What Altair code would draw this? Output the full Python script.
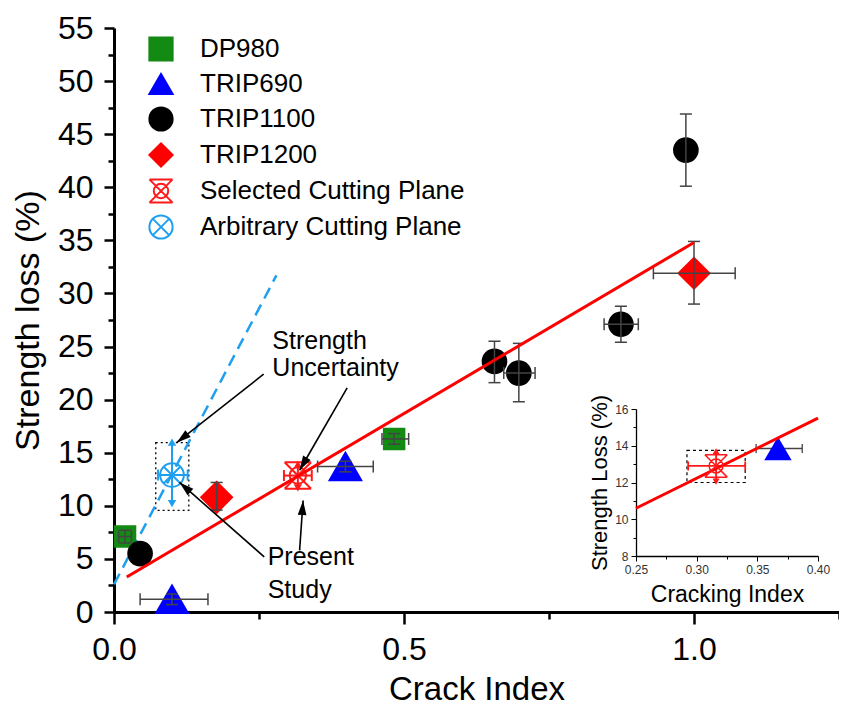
import math
import altair as alt
import pandas as pd

FONT = "Liberation Sans"

# ---------------- data ----------------
SERIES = ["DP980", "TRIP690", "TRIP1100", "TRIP1200",
          "Selected Cutting Plane", "Arbitrary Cutting Plane"]

PT_SERIES = ["DP980", "DP980", "TRIP690", "TRIP690",
             "TRIP1100", "TRIP1100", "TRIP1100", "TRIP1100", "TRIP1100",
             "TRIP1200", "TRIP1200",
             "Selected Cutting Plane", "Arbitrary Cutting Plane"]
PT_X = [0.019, 0.483, 0.100, 0.399, 0.045, 0.656, 0.698, 0.874, 0.986, 0.177, 1.000, 0.317, 0.100]
PT_Y = [7.1, 16.3, 1.2, 13.7, 5.5, 23.6, 22.5, 27.1, 43.5, 10.8, 31.9, 12.85, 12.9]

# horizontal error bars (y, x-low, x-high)
HX_Y = [7.1, 16.3, 1.2, 13.7, 22.5, 27.1, 31.9]
HX_LO = [0.008, 0.462, 0.045, 0.351, 0.672, 0.845, 0.930]
HX_HI = [0.030, 0.508, 0.162, 0.447, 0.726, 0.904, 1.071]

# vertical error bars (x, y-low, y-high)
VY_X = [0.019, 0.483, 0.100, 0.399, 0.656, 0.698, 0.874, 0.986, 0.177, 1.000]
VY_LO = [6.5, 15.8, 0.7, 13.2, 21.6, 19.8, 25.4, 40.1, 9.6, 29.0]
VY_HI = [7.7, 16.8, 1.7, 14.2, 25.5, 25.3, 28.8, 46.9, 12.2, 34.9]

# cutting-plane uncertainty bars (main plot)
CP_NAME = ["Selected Cutting Plane", "Arbitrary Cutting Plane"]
CP_X = [0.317, 0.100]
CP_Y = [12.85, 12.9]
CP_XLO = [0.293, 0.076]
CP_XHI = [0.341, 0.127]
CP_YLO = [11.7, 10.2]
CP_YHI = [13.9, 16.0]

# dotted uncertainty box (main)
BOX_XLO, BOX_XHI = [0.072], [0.129]
BOX_YLO, BOX_YHI = [9.57], [15.95]

# fitted line and dashed line
FIT_X = [0.022, 1.0]
FIT_Y = [3.3, 34.8]
DASH_X = [0.0, 0.28]
DASH_Y = [2.6, 31.7]

# annotations
ANN_TEXT = ["Strength", "Uncertainty", "Present", "Study"]
ANN_X = [0.273, 0.273, 0.265, 0.265]
ANN_Y = [24.8, 22.2, 4.4, 1.3]

ARR_X1 = [0.258, 0.402, 0.259, 0.320]
ARR_Y1 = [22.4, 21.1, 5.2, 5.8]
ARR_X2 = [0.108, 0.320, 0.113, 0.326]
ARR_Y2 = [15.95, 13.35, 12.2, 10.5]

# axis ticks
X_TICKS = [0.0, 0.25, 0.5, 0.75, 1.0, 1.25]
Y_TICKS = [i * 2.5 for i in range(23)]

# inset data
IN_LINE_X = [0.25, 0.40]
IN_LINE_Y = [10.6, 15.5]
IN_SEL_X, IN_SEL_Y = [0.316], [12.9]
IN_SEL_XLO, IN_SEL_XHI = [0.293], [0.340]
IN_SEL_YLO, IN_SEL_YHI = [12.05], [13.7]
IN_BOX_XLO, IN_BOX_XHI = [0.292], [0.340]
IN_BOX_YLO, IN_BOX_YHI = [12.0], [13.75]
IN_TRI_X, IN_TRI_Y = [0.367], [13.85]
IN_TRI_XLO, IN_TRI_XHI = [0.349], [0.387]
IN_TRI_YLO, IN_TRI_YHI = [13.7], [14.3]
IX_TICKS = [0.25, 0.275, 0.30, 0.325, 0.35, 0.375, 0.40]
IY_TICKS = [8, 9, 10, 11, 12, 13, 14, 15, 16]

# ---------------- styles ----------------
W, H = 725, 584
XMAX, YMAX = 1.25, 55
RED = "#ff1a1a"
SKY = "#1f9ff0"
ERR = "#444444"

SEL_PATH = ("M-1,-1L1,1M1,-1L-1,1M-1,-1L1,-1M-1,1L1,1"
            "M0.62,0A0.62,0.62,0,1,1,-0.62,0A0.62,0.62,0,1,1,0.62,0Z")
ARB_PATH = ("M1,0A1,1,0,1,1,-1,0A1,1,0,1,1,1,0Z"
            "M-0.7,-0.7L0.7,0.7M0.7,-0.7L-0.7,0.7")
ARROW_PATH = "M0,0L0.6,2L-0.6,2Z"

FILLS = ["#138a13", "#0000ff", "#000000", "#ff0000", "transparent", "transparent"]
STROKES = ["#138a13", "#0000ff", "#000000", "#ff0000", RED, SKY]
SHAPES = ["square", "triangle-up", "circle", "diamond", SEL_PATH, ARB_PATH]
SIZES = [420, 1000, 560, 950, 700, 560]

MX_SCALE = alt.Scale(domain=[0, XMAX], nice=False, zero=False)
MY_SCALE = alt.Scale(domain=[0, YMAX], nice=False, zero=False)

X_AXIS = alt.Axis(
    title="Crack Index", orient="bottom", values=X_TICKS, format=".1f",
    labelExpr="round(datum.value*4) % 2 === 0 ? datum.label : ''",
    tickSize={"condition": {"test": "round(datum.value*4) % 2 === 0", "value": 12}, "value": 7},
    tickWidth=2.5, tickColor="black", domainColor="black", domainWidth=3,
    labelFont=FONT, labelFontSize=32, labelColor="black", labelPadding=10,
    labelFlush=False, labelOverlap=False,
    titleFont=FONT, titleFontSize=33, titleFontWeight="normal", titleColor="black",
    titlePadding=8, grid=False)
Y_AXIS = alt.Axis(
    title="Strength loss (%)", orient="left", values=Y_TICKS, format="d",
    labelExpr="datum.value % 5 === 0 ? datum.label : ''",
    tickSize={"condition": {"test": "datum.value % 5 === 0", "value": 10}, "value": 6},
    tickWidth=2.5, tickColor="black", domainColor="black", domainWidth=3,
    labelFont=FONT, labelFontSize=32, labelColor="black", labelPadding=11,
    labelFlush=False, labelOverlap=False,
    titleFont=FONT, titleFontSize=34, titleFontWeight="normal", titleColor="black",
    titlePadding=12, grid=False)


def MX(f):
    return alt.X(f"{f}:Q", scale=MX_SCALE, axis=X_AXIS)


def MY(f):
    return alt.Y(f"{f}:Q", scale=MY_SCALE, axis=Y_AXIS)


def head_angle(x1, y1, x2, y2, px_x, px_y):
    dx = (x2 - x1) * px_x
    dy = -(y2 - y1) * px_y
    return math.degrees(math.atan2(dx, -dy)) % 360


# ---------------- main plot ----------------
pts_df = pd.DataFrame({"series": PT_SERIES, "x": PT_X, "y": PT_Y})
hx_df = pd.DataFrame({"y": HX_Y, "lo": HX_LO, "hi": HX_HI})
vy_df = pd.DataFrame({"x": VY_X, "lo": VY_LO, "hi": VY_HI})
cp_df = pd.DataFrame({"name": CP_NAME, "x": CP_X, "y": CP_Y, "xlo": CP_XLO,
                      "xhi": CP_XHI, "ylo": CP_YLO, "yhi": CP_YHI})
box_df = pd.DataFrame({"xlo": BOX_XLO, "xhi": BOX_XHI, "ylo": BOX_YLO, "yhi": BOX_YHI})
fit_df = pd.DataFrame({"x": FIT_X, "y": FIT_Y})
dash_df = pd.DataFrame({"x": DASH_X, "y": DASH_Y})
ann_df = pd.DataFrame({"t": ANN_TEXT, "x": ANN_X, "y": ANN_Y})
arr_df = pd.DataFrame({"x1": ARR_X1, "y1": ARR_Y1, "x2": ARR_X2, "y2": ARR_Y2})
arr_df["ang"] = [head_angle(a, b, c, d, W / XMAX, H / YMAX)
                 for a, b, c, d in zip(ARR_X1, ARR_Y1, ARR_X2, ARR_Y2)]

leg = alt.Legend(title=None, orient="none", legendX=34, legendY=8, padding=0,
                 labelFont=FONT, labelFontSize=26, labelColor="black", labelLimit=400,
                 labelOffset=26, rowPadding=4, symbolStrokeWidth=2, symbolSize=540)

box = alt.Chart(box_df).mark_rect(fill="transparent", stroke="black", strokeWidth=1.3,
                                  strokeDash=[2, 3]).encode(
    x=MX("xlo"), x2="xhi", y=MY("ylo"), y2="yhi")

dash = alt.Chart(dash_df).mark_line(color=SKY, strokeWidth=2.5, strokeDash=[12, 7]).encode(
    x=MX("x"), y=MY("y"))

pt_layers = []
for s, sz in zip(SERIES, SIZES):
    pt_layers.append(
        alt.Chart(pts_df).transform_filter(alt.datum.series == s)
        .mark_point(filled=True, opacity=1, strokeWidth=2, size=sz).encode(
            x=MX("x"), y=MY("y"),
            fill=alt.Fill("series:N", scale=alt.Scale(domain=SERIES, range=FILLS), legend=leg),
            stroke=alt.Stroke("series:N", scale=alt.Scale(domain=SERIES, range=STROKES), legend=leg),
            shape=alt.Shape("series:N", scale=alt.Scale(domain=SERIES, range=SHAPES), legend=leg),
        )
    )

hx_rule = alt.Chart(hx_df).mark_rule(color=ERR, strokeWidth=1.5).encode(
    x=MX("lo"), x2="hi", y=MY("y"))
hx_cap_lo = alt.Chart(hx_df).mark_tick(color=ERR, orient="vertical", size=12,
                                       thickness=1.5, opacity=1).encode(x=MX("lo"), y=MY("y"))
hx_cap_hi = alt.Chart(hx_df).mark_tick(color=ERR, orient="vertical", size=12,
                                       thickness=1.5, opacity=1).encode(x=MX("hi"), y=MY("y"))
vy_rule = alt.Chart(vy_df).mark_rule(color=ERR, strokeWidth=1.5).encode(
    x=MX("x"), y=MY("lo"), y2="hi")
vy_cap_lo = alt.Chart(vy_df).mark_tick(color=ERR, orient="horizontal", size=12,
                                       thickness=1.5, opacity=1).encode(x=MX("x"), y=MY("lo"))
vy_cap_hi = alt.Chart(vy_df).mark_tick(color=ERR, orient="horizontal", size=12,
                                       thickness=1.5, opacity=1).encode(x=MX("x"), y=MY("hi"))

cp_layers = []
for name, col in zip(CP_NAME, [RED, SKY]):
    base = alt.Chart(cp_df).transform_filter(alt.datum.name == name)
    cp_layers += [
        base.mark_rule(color=col, strokeWidth=2).encode(x=MX("xlo"), x2="xhi", y=MY("y")),
        base.mark_rule(color=col, strokeWidth=2).encode(x=MX("x"), y=MY("ylo"), y2="yhi"),
        base.mark_tick(color=col, orient="vertical", size=11, thickness=2, opacity=1).encode(
            x=MX("xlo"), y=MY("y")),
        base.mark_tick(color=col, orient="vertical", size=11, thickness=2, opacity=1).encode(
            x=MX("xhi"), y=MY("y")),
        base.mark_point(shape="triangle-up", filled=True, color=col, size=70, opacity=1).encode(
            x=MX("x"), y=MY("yhi")),
        base.mark_point(shape="triangle-down", filled=True, color=col, size=70, opacity=1).encode(
            x=MX("x"), y=MY("ylo")),
    ]

fit = alt.Chart(fit_df).mark_line(color="#ff0000", strokeWidth=3).encode(x=MX("x"), y=MY("y"))

arr_line = alt.Chart(arr_df).mark_rule(color="black", strokeWidth=1.6).encode(
    x=MX("x1"), y=MY("y1"), x2="x2", y2="y2")
arr_head = alt.Chart(arr_df).mark_point(shape=ARROW_PATH, filled=True, color="black",
                                        size=210, opacity=1).encode(
    x=MX("x2"), y=MY("y2"), angle=alt.Angle("ang:Q", scale=None))

ann = alt.Chart(ann_df).mark_text(align="left", baseline="alphabetic", font=FONT,
                                  fontSize=25, color="black").encode(
    x=MX("x"), y=MY("y"), text="t:N")

main = alt.layer(box, dash, *pt_layers, hx_rule, hx_cap_lo, hx_cap_hi, vy_rule, vy_cap_lo,
                 vy_cap_hi, *cp_layers, fit, arr_line, arr_head, ann)

# ---------------- inset ----------------
IX_SCALE = alt.Scale(domain=[0.25, 0.40], range=[522, 704], nice=False, zero=False)
IY_SCALE = alt.Scale(domain=[8, 16], range=[528, 381], nice=False, zero=False)

IX_AXIS = alt.Axis(
    title="Cracking Index", orient="bottom", offset=528 - H, values=IX_TICKS, format=".2f",
    labelExpr="round(datum.value*1000) % 50 === 0 ? datum.label : ''",
    tickSize={"condition": {"test": "round(datum.value*1000) % 50 === 0", "value": 5}, "value": 3},
    tickWidth=1, tickColor="black", domainColor="black", domainWidth=1.3,
    labelFont=FONT, labelFontSize=12, labelColor="#333333", labelPadding=3,
    labelFlush=False, labelOverlap=False,
    titleFont=FONT, titleFontSize=23, titleFontWeight="normal", titleColor="black",
    titlePadding=8, grid=False)
IY_AXIS = alt.Axis(
    title="Strength Loss (%)", orient="left", offset=-522, values=IY_TICKS, format="d",
    labelExpr="datum.value % 2 === 0 ? datum.label : ''",
    tickSize={"condition": {"test": "datum.value % 2 === 0", "value": 5}, "value": 3},
    tickWidth=1, tickColor="black", domainColor="black", domainWidth=1.3,
    labelFont=FONT, labelFontSize=12, labelColor="#333333", labelPadding=3,
    labelFlush=False, labelOverlap=False,
    titleFont=FONT, titleFontSize=22, titleFontWeight="normal", titleColor="black",
    titlePadding=3, grid=False)


def IX(f):
    return alt.X(f"{f}:Q", scale=IX_SCALE, axis=IX_AXIS)


def IY(f):
    return alt.Y(f"{f}:Q", scale=IY_SCALE, axis=IY_AXIS)


in_line_df = pd.DataFrame({"x": IN_LINE_X, "y": IN_LINE_Y})
in_sel_df = pd.DataFrame({"x": IN_SEL_X, "y": IN_SEL_Y, "xlo": IN_SEL_XLO, "xhi": IN_SEL_XHI,
                          "ylo": IN_SEL_YLO, "yhi": IN_SEL_YHI})
in_box_df = pd.DataFrame({"xlo": IN_BOX_XLO, "xhi": IN_BOX_XHI, "ylo": IN_BOX_YLO,
                          "yhi": IN_BOX_YHI})
in_tri_df = pd.DataFrame({"x": IN_TRI_X, "y": IN_TRI_Y, "xlo": IN_TRI_XLO, "xhi": IN_TRI_XHI,
                          "ylo": IN_TRI_YLO, "yhi": IN_TRI_YHI})

in_box = alt.Chart(in_box_df).mark_rect(fill="transparent", stroke="black", strokeWidth=1.2,
                                        strokeDash=[3, 3]).encode(
    x=IX("xlo"), x2="xhi", y=IY("ylo"), y2="yhi")
in_tri_err = alt.Chart(in_tri_df).mark_rule(color=ERR, strokeWidth=1.3).encode(
    x=IX("xlo"), x2="xhi", y=IY("y"))
in_tri_cap1 = alt.Chart(in_tri_df).mark_tick(color=ERR, orient="vertical", size=9,
                                             thickness=1.3, opacity=1).encode(x=IX("xlo"), y=IY("y"))
in_tri_cap2 = alt.Chart(in_tri_df).mark_tick(color=ERR, orient="vertical", size=9,
                                             thickness=1.3, opacity=1).encode(x=IX("xhi"), y=IY("y"))
in_tri = alt.Chart(in_tri_df).mark_point(shape="triangle-up", filled=True, color="#0000ff",
                                         size=750, opacity=1).encode(x=IX("x"), y=IY("y"))
in_tri_v = alt.Chart(in_tri_df).mark_rule(color=ERR, strokeWidth=1.3).encode(
    x=IX("x"), y=IY("ylo"), y2="yhi")
in_sel_h = alt.Chart(in_sel_df).mark_rule(color=RED, strokeWidth=1.8).encode(
    x=IX("xlo"), x2="xhi", y=IY("y"))
in_sel_c1 = alt.Chart(in_sel_df).mark_tick(color=RED, orient="vertical", size=9, thickness=1.8,
                                           opacity=1).encode(x=IX("xlo"), y=IY("y"))
in_sel_c2 = alt.Chart(in_sel_df).mark_tick(color=RED, orient="vertical", size=9, thickness=1.8,
                                           opacity=1).encode(x=IX("xhi"), y=IY("y"))
in_sel_v = alt.Chart(in_sel_df).mark_rule(color=RED, strokeWidth=1.8).encode(
    x=IX("x"), y=IY("ylo"), y2="yhi")
in_sel_up = alt.Chart(in_sel_df).mark_point(shape="triangle-up", filled=True, color=RED,
                                            size=50, opacity=1).encode(x=IX("x"), y=IY("yhi"))
in_sel_dn = alt.Chart(in_sel_df).mark_point(shape="triangle-down", filled=True, color=RED,
                                            size=50, opacity=1).encode(x=IX("x"), y=IY("ylo"))
in_line = alt.Chart(in_line_df).mark_line(color="#ff0000", strokeWidth=3).encode(
    x=IX("x"), y=IY("y"))
in_sel = alt.Chart(in_sel_df).mark_point(shape=SEL_PATH, filled=False, color=RED,
                                         strokeWidth=1.5, size=500, opacity=1).encode(
    x=IX("x"), y=IY("y"))

inset = alt.layer(in_box, in_tri_err, in_tri_cap1, in_tri_cap2, in_tri_v, in_tri,
                  in_sel_h, in_sel_c1, in_sel_c2, in_sel_v, in_sel_up, in_sel_dn,
                  in_line, in_sel)

chart = alt.layer(main, inset).resolve_scale(
    x="independent", y="independent"
).properties(
    width=W, height=H,
    padding={"left": 106, "top": 20, "right": 0, "bottom": 95},
    autosize=alt.AutoSizeParams(type="none"),
    background="white",
).configure(font=FONT, view=alt.ViewConfig(stroke="transparent"))

chart.save("out.html", embed_options={"renderer": "svg", "actions": False})
